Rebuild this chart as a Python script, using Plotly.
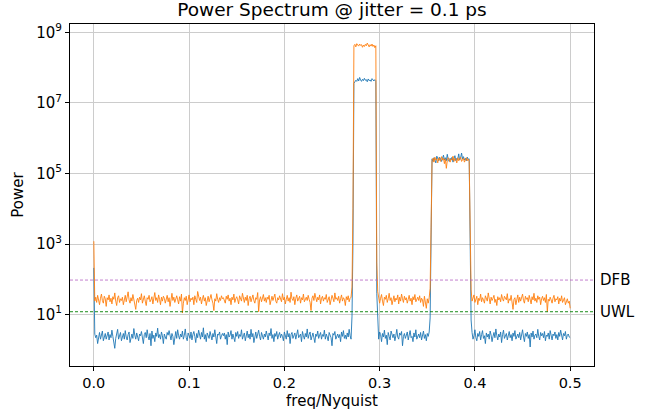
import numpy as np
import plotly.graph_objects as go

# spectrum sampled on 501 bins from 0 to 0.5 (freq/Nyquist)
n_bins = 501

# spike at DC
orange_dc = [1200]
blue_dc = [210]

# noise floor 0.001 .. 0.271
orange_floor_a = [
    24, 31, 22, 35, 27, 19, 29, 38, 25, 21, 33, 28, 17, 30, 26,
    36, 23, 29, 20, 32, 27, 41, 24, 18, 30, 34, 22, 28, 25, 31,
    19, 27, 35, 23, 29, 44, 26, 21, 30, 24, 37, 28, 20, 14, 25,
    29, 22, 31, 26, 39, 21, 28, 34, 24, 18, 30, 27, 35, 23, 26,
    32, 20, 28, 42, 25, 30, 22, 36, 27, 19, 31, 24, 33, 29, 21,
    27, 35, 23, 30, 17, 28, 40, 25, 31, 22, 29, 34, 26, 20, 32,
    24, 38, 11, 21, 30, 25, 33, 19, 28, 36, 23, 29, 26, 31, 19,
    34, 27, 22, 45, 29, 25, 31, 20, 28, 35, 24, 30, 18, 27, 33,
    23, 29, 37, 26, 21, 13, 28, 24, 39, 27, 22, 30, 25, 34, 28,
    30, 25, 21, 33, 27, 36, 24, 29, 19, 31, 26, 38, 22, 28, 32,
    26, 20, 34, 29, 24, 40, 27, 22, 31, 25, 35, 18, 28, 33, 23,
    29, 36, 25, 21, 30, 27, 42, 12, 26, 32, 23, 28, 37, 24, 30,
    22, 31, 27, 35, 19, 28, 33, 25, 29, 38, 24, 21, 30, 26, 34,
    28, 23, 39, 26, 31, 20, 27, 35, 24, 30, 22, 43, 28, 25, 32,
    19, 29, 36, 24, 27, 33, 21, 30, 26, 38, 23, 28, 31, 25, 35,
    27, 22, 13, 29, 34, 25, 40, 28, 23, 31, 26, 36, 20, 29, 33,
    24, 30, 27, 37, 22, 28, 32, 19, 26, 35, 29, 23, 41, 27, 30,
    25, 33, 21, 28, 36, 24, 30, 27, 18, 32, 26, 34, 23, 29, 31,
    60,
]
blue_floor_a = [
    2.8, 2.2, 2.6, 1.5, 2.3, 3.1, 2.0, 2.7, 3.4, 1.8, 2.4, 2.9, 2.0, 2.5, 3.2,
    1.9, 2.7, 2.2, 3.6, 2.4, 1.7, 1.1, 2.1, 2.6, 3.8, 2.0, 2.5, 3.1, 1.8, 2.4,
    2.9, 2.0, 3.5, 2.3, 1.9, 2.7, 3.2, 1.6, 2.4, 2.8, 2.1, 4.0, 2.6, 2.0, 3.0,
    2.3, 1.8, 2.8, 2.5, 3.3, 2.0, 1.5, 2.7, 3.1, 2.2, 3.7, 2.4, 1.9, 2.9, 1.3,
    3.4, 2.1, 2.6, 1.7, 3.0, 2.4, 4.1, 2.2, 2.7, 2.0, 3.2, 2.5, 1.5, 2.8, 2.3,
    2.0, 3.1, 2.6, 3.5, 2.2, 1.9, 2.9, 2.4, 1.4, 2.7, 3.3, 2.1, 3.7, 2.5, 2.0,
    2.8, 2.3, 3.4, 2.0, 2.6, 3.9, 2.2, 1.8, 3.0, 2.5, 2.1, 3.2, 1.9, 2.7, 3.3,
    2.4, 1.6, 2.9, 2.2, 3.6, 2.6, 2.0, 3.1, 2.3, 4.2, 2.0, 2.7, 1.7, 3.0, 2.4,
    2.1, 3.3, 2.5, 1.9, 2.9, 2.3, 3.7, 2.2, 1.5, 2.8, 2.6, 3.2, 2.0, 2.5, 2.9,
    2.5, 3.0, 2.0, 2.7, 1.4, 3.2, 2.3, 2.6, 3.5, 2.0, 2.8, 2.2, 1.7, 3.1, 2.4,
    3.3, 2.1, 2.7, 2.4, 3.7, 2.0, 2.5, 3.0, 1.8, 2.6, 3.4, 2.2, 2.8, 2.0, 3.8,
    2.3, 2.9, 1.6, 2.6, 3.2, 2.1, 2.7, 3.6, 2.4, 1.9, 3.1, 2.5, 2.0, 2.8, 2.3,
    3.4, 2.2, 1.9, 3.0, 2.5, 4.0, 2.1, 2.7, 1.7, 2.9, 2.4, 3.3, 2.0, 2.6, 3.1,
    2.2, 2.8, 2.4, 1.8, 3.2, 2.6, 2.0, 3.5, 2.3, 2.9, 1.5, 2.7, 3.1, 2.1, 2.5,
    3.0, 2.0, 2.6, 3.7, 2.2, 2.4, 2.8, 1.7, 3.3, 2.5, 2.0, 2.9, 2.3, 3.9, 2.1,
    2.7, 3.2, 1.9, 2.5, 3.0, 2.2, 1.6, 2.8, 2.4, 3.4, 2.1, 2.6, 3.1, 2.0, 2.7,
    2.4, 3.6, 2.0, 2.8, 2.3, 1.8, 3.1, 2.5, 2.2, 1.3, 2.9, 2.6, 3.3, 2.0, 2.4,
    2.8, 2.2, 2.7, 1.7, 3.2, 2.4, 3.5, 2.1, 2.6, 2.0, 3.0, 2.3, 3.8, 2.5, 2.0,
    9.0,
]

# first tone 0.272 .. 0.297 (rising edge, plateau, falling edge)
orange_tone1 = [1.0e4,
                4.2e8, 4.6e8, 3.9e8, 4.8e8, 4.4e8, 4.1e8, 4.7e8, 4.3e8, 4.5e8, 3.8e8, 4.4e8, 4.0e8,
                4.6e8, 4.2e8, 5.0e8, 4.3e8, 3.9e8, 4.5e8, 4.1e8, 4.7e8, 4.0e8, 4.4e8, 3.7e8, 4.2e8,
                300]
blue_tone1 = [1.0e3,
              3.6e7, 3.9e7, 4.4e7, 4.1e7, 4.9e7, 4.2e7, 5.3e7, 4.5e7, 4.1e7, 4.7e7, 4.3e7, 5.0e7,
              4.4e7, 4.6e7, 4.0e7, 4.8e7, 4.3e7, 4.5e7, 4.1e7, 4.9e7, 4.4e7, 4.2e7, 4.6e7, 4.3e7,
              40]

# noise floor 0.298 .. 0.353
orange_floor_b = [
    45, 33, 21, 29, 37, 24, 18, 31, 27, 35, 22, 28, 40, 25, 30,
    19, 27, 34, 23, 29, 26, 36, 20, 31, 24, 38, 28, 22, 33, 26,
    30, 21, 27, 35, 24, 29, 19, 32, 26, 37, 23, 28, 31, 25, 34,
    22, 29, 26, 17, 33, 24, 15, 28, 21, 30, 55,
]
blue_floor_b = [
    6.0, 2.0, 3.2, 2.7, 1.7, 2.9, 2.3, 3.6, 2.1, 2.6, 1.4, 3.1, 2.4, 1.9, 3.4,
    2.7, 2.2, 2.8, 1.8, 2.5, 3.8, 2.3, 2.0, 3.0, 2.6, 3.3, 1.3, 2.4, 2.9, 2.1,
    2.5, 3.2, 1.9, 2.7, 3.5, 2.2, 2.4, 1.7, 3.0, 2.3, 3.7, 2.0, 2.6, 2.8, 2.2,
    3.1, 1.9, 2.5, 3.4, 2.1, 2.7, 1.8, 2.9, 2.4, 3.2, 8.0,
]

# second tone 0.354 .. 0.395
orange_tone2 = [3.0e3,
                2.3e5, 2.7e5, 2.1e5, 2.9e5, 2.4e5, 2.6e5, 2.0e5, 2.8e5, 2.5e5, 2.2e5,
                3.0e5, 2.4e5, 2.7e5, 1.9e5, 2.6e5, 1.4e5, 2.3e5, 2.8e5, 2.5e5, 2.1e5,
                2.6e5, 2.4e5, 3.1e5, 2.2e5, 2.7e5, 2.5e5, 2.0e5, 2.8e5, 2.3e5, 2.6e5,
                2.9e5, 2.2e5, 2.5e5, 2.7e5, 2.1e5, 2.4e5, 2.8e5, 2.3e5, 2.6e5, 2.2e5,
                500]
blue_tone2 = [1.0e3,
              2.6e5, 2.2e5, 2.8e5, 2.4e5, 2.0e5, 3.1e5, 2.5e5, 2.3e5, 2.9e5, 2.6e5,
              2.2e5, 2.7e5, 3.3e5, 2.4e5, 2.8e5, 2.3e5, 3.5e5, 2.5e5, 2.2e5, 2.7e5,
              2.4e5, 2.9e5, 2.1e5, 2.6e5, 3.2e5, 2.3e5, 2.7e5, 2.5e5, 3.6e5, 2.4e5,
              2.8e5, 3.8e5, 2.6e5, 3.0e5, 2.4e5, 2.7e5, 2.3e5, 2.9e5, 2.5e5, 2.6e5,
              50]

# noise floor 0.396 .. 0.500
orange_floor_c = [
    50, 24, 28, 36, 22, 27, 33, 19, 29, 25, 38, 23, 30, 26, 21,
    34, 28, 24, 41, 27, 20, 31, 25, 29, 35, 22, 27, 18, 32, 26,
    30, 23, 37, 28, 24, 33, 29, 26, 39, 21, 28, 25, 35, 23, 14,
    27, 30, 19, 26, 36, 22, 31, 24, 29, 38, 25, 21, 33, 27, 30,
    23, 35, 28, 20, 32, 26, 40, 24, 29, 22, 34, 27, 31, 19, 28,
    33, 25, 30, 22, 37, 12, 27, 24, 31, 26, 21, 29, 35, 23, 28,
    26, 32, 20, 29, 24, 34, 22, 27, 30, 19, 25, 28, 21, 24, 15,
]
blue_floor_c = [
    7.0, 3.1, 2.0, 2.5, 3.7, 2.2, 1.8, 2.9, 2.4, 3.3, 1.9, 2.7, 3.5, 2.1, 2.5,
    1.5, 3.0, 2.3, 2.8, 2.0, 3.4, 2.6, 1.7, 2.4, 3.1, 2.2, 3.9, 2.5, 1.9, 2.8,
    2.3, 3.2, 1.6, 2.7, 3.6, 2.1, 2.4, 2.9, 1.9, 2.6, 3.3, 2.2, 2.7, 1.8, 3.0,
    2.4, 3.5, 2.0, 2.6, 2.8, 2.2, 3.1, 1.9, 2.5, 3.7, 2.3, 1.7, 2.9, 2.4, 3.2,
    2.1, 2.7, 1.2, 3.0, 2.3, 3.4, 2.0, 2.6, 2.8, 2.2, 3.8, 2.4, 1.9, 3.1, 2.5,
    2.9, 2.2, 3.3, 1.8, 2.6, 2.4, 3.0, 2.0, 3.5, 2.3, 1.9, 2.8, 2.5, 3.2, 2.1,
    2.7, 1.9, 3.1, 2.4, 3.6, 2.2, 1.9, 2.9, 2.5, 3.3, 2.0, 2.6, 2.8, 2.3, 2.2,
]

dfb_level = 95
uwl_level = 12

y_ticks = [10, 1e3, 1e5, 1e7, 1e9]
y_tick_text = ["10<sup>1</sup>", "10<sup>3</sup>", "10<sup>5</sup>", "10<sup>7</sup>", "10<sup>9</sup>"]
x_ticks = [0.0, 0.1, 0.2, 0.3, 0.4, 0.5]

blue = blue_dc + blue_floor_a + blue_tone1 + blue_floor_b + blue_tone2 + blue_floor_c
orange = orange_dc + orange_floor_a + orange_tone1 + orange_floor_b + orange_tone2 + orange_floor_c
freq = np.linspace(0, 0.5, n_bins)
assert len(blue) == n_bins and len(orange) == n_bins, (len(blue), len(orange))

font = "DejaVu Sans"

fig = go.Figure()
fig.add_trace(go.Scatter(x=freq, y=blue, mode="lines", line=dict(color="#1f77b4", width=0.9),
                         showlegend=False))
fig.add_trace(go.Scatter(x=freq, y=orange, mode="lines", line=dict(color="#ff7f0e", width=0.9),
                         showlegend=False))

fig.add_hline(y=dfb_level, line=dict(color="#b460c0", width=0.8, dash="3px,2px"))
fig.add_hline(y=uwl_level, line=dict(color="#008000", width=0.9, dash="3px,2px"))

for label, level in [("DFB", dfb_level), ("UWL", uwl_level)]:
    fig.add_annotation(text=label, xref="paper", x=1, xanchor="left", xshift=4,
                       yref="y", y=np.log10(level), yanchor="middle",
                       showarrow=False, font=dict(family=font, size=15, color="black"))

fig.update_xaxes(range=[-0.025, 0.525], tickvals=x_ticks, tickformat=".1f",
                 showgrid=True, gridcolor="#cccccc", gridwidth=1,
                 showline=True, linecolor="black", linewidth=1, mirror=True,
                 ticks="outside", ticklen=4, tickcolor="black", zeroline=False, automargin=False,
                 title=dict(text="freq/Nyquist", standoff=5, font=dict(family=font, size=15)),
                 tickfont=dict(family=font, size=14.5, color="black"))
fig.update_yaxes(type="log", range=[-0.46, 9.24], tickvals=y_ticks, ticktext=y_tick_text,
                 showgrid=True, gridcolor="#cccccc", gridwidth=1,
                 showline=True, linecolor="black", linewidth=1, mirror=True,
                 ticks="outside", ticklen=4, tickcolor="black", zeroline=False, automargin=False,
                 title=dict(text="Power", standoff=8, font=dict(family=font, size=15)),
                 tickfont=dict(family=font, size=15, color="black"))

fig.update_layout(width=668, height=418, autosize=False,
                  margin=dict(l=70, r=74, t=24, b=52),
                  paper_bgcolor="white", plot_bgcolor="white",
                  font=dict(family=font, color="black"),
                  title=dict(text="Power Spectrum @ jitter = 0.1 ps", xref="paper", x=0.5,
                             xanchor="center", yref="container", y=0.977, yanchor="middle",
                             font=dict(family=font, size=18.5)))

# drop the default 8px body margin so the figure fills the window
fig.write_html("out.html", config={"displayModeBar": False},
               post_script="document.body.style.margin='0';")
